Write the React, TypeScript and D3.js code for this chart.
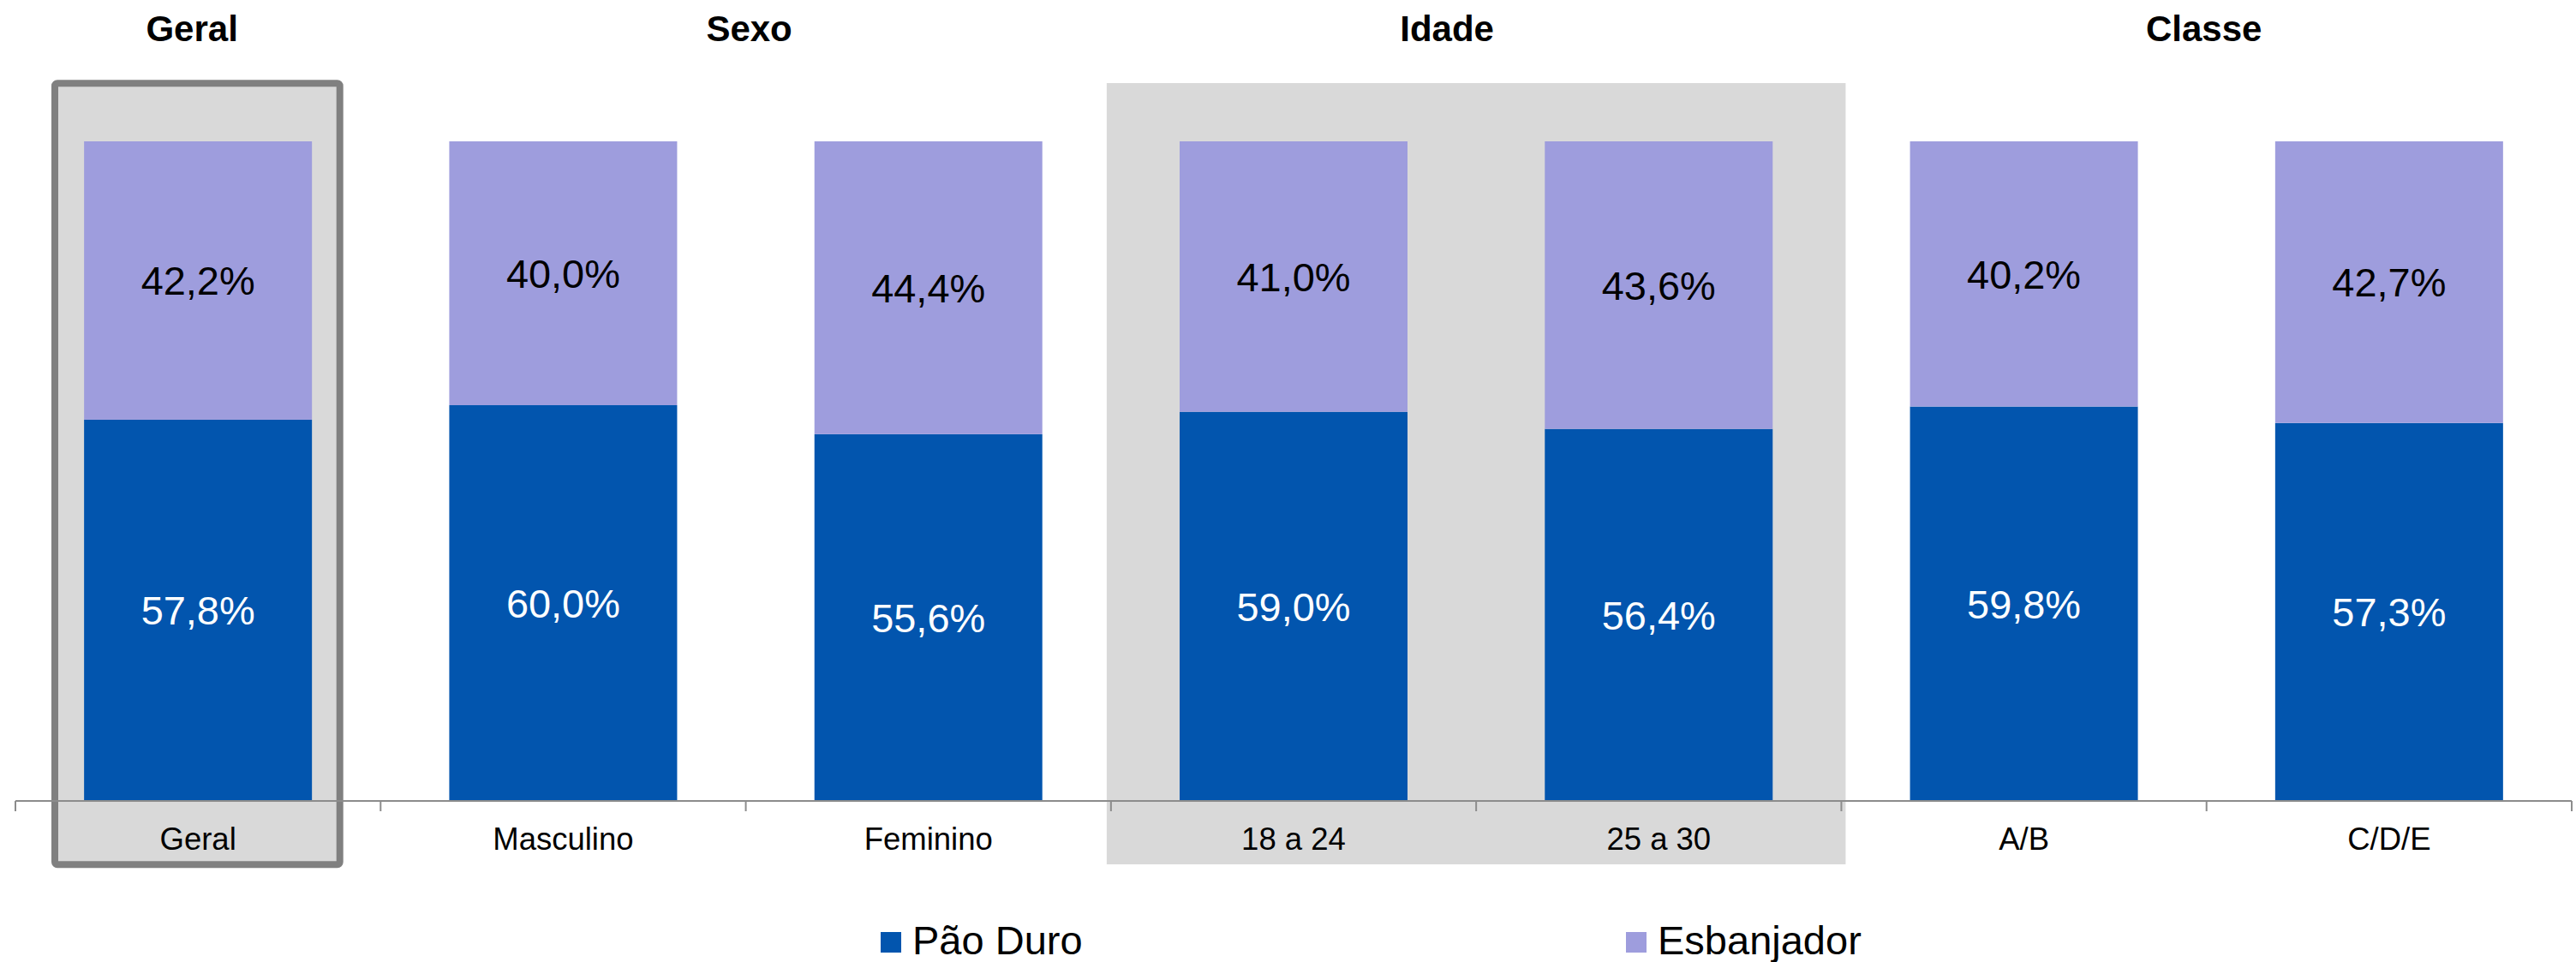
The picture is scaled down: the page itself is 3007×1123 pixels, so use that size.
import React from "react";
import * as d3 from "d3";

const categories = ["Geral", "Masculino", "Feminino", "18 a 24", "25 a 30", "A/B", "C/D/E"];
const paoDuro = [57.8, 60.0, 55.6, 59.0, 56.4, 59.8, 57.3];
const esbanjador = [42.2, 40.0, 44.4, 41.0, 43.6, 40.2, 42.7];
const seriesNames = ["Pão Duro", "Esbanjador"];
const groupNames = ["Geral", "Sexo", "Idade", "Classe"];
const groupMembers = [["Geral"], ["Masculino", "Feminino"], ["18 a 24", "25 a 30"], ["A/B", "C/D/E"]];

const W = 3007;
const H = 1123;
const COLORS = ["#0255AE", "#9E9DDD"];
const FONT = "'Liberation Sans', Arial, Helvetica, sans-serif";
const titleNudge = [-7, 4, -34, -3];

export default function App() {
  const x = d3.scaleBand<string>().domain(categories).range([18, 3002]).padding(0);
  const y = d3.scaleLinear().domain([0, 100]).range([935, 165]);
  const barW = x.bandwidth() * 0.624;
  const fmt = (v: number) => d3.format(".1f")(v).replace(".", ",") + "%";

  const stackData = categories.map((c, i) => ({ cat: c, p: paoDuro[i], e: esbanjador[i] }));
  const stack = d3.stack<any>().keys(["p", "e"])(stackData);

  const groupCenter = (members: string[]) => {
    const xs = members.map((m) => (x(m) as number) + x.bandwidth() / 2);
    return d3.mean(xs) as number;
  };

  const geralX = x("Geral") as number;
  const idadeX0 = x("18 a 24") as number;
  const idadeX1 = (x("25 a 30") as number) + x.bandwidth();

  const ticks = [...categories.map((c) => x(c) as number), x.range()[1]];

  const legendX = [1028, 1898];

  return (
    <svg width={W} height={H} style={{ position: "absolute", left: 0, top: 0, background: "#fff" }} fontFamily={FONT}>
      {/* Idade shaded background */}
      <rect x={idadeX0 - 5} y={97} width={idadeX1 - idadeX0 + 10} height={912} fill="#D9D9D9" />
      {/* Geral highlighted box */}
      <rect x={geralX + 46} y={97.3} width={332.7} height={912} fill="#D9D9D9" stroke="#808080" strokeWidth={8} rx={3} />

      {/* bars */}
      {stack.map((layer, li) =>
        layer.map((d, i) => (
          <rect
            key={`${li}-${i}`}
            x={(x(categories[i]) as number) + (x.bandwidth() - barW) / 2}
            y={y(d[1])}
            width={barW}
            height={y(d[0]) - y(d[1])}
            fill={COLORS[li]}
          />
        ))
      )}

      {/* value labels */}
      {stack.map((layer, li) =>
        layer.map((d, i) => (
          <text
            key={`l-${li}-${i}`}
            x={(x(categories[i]) as number) + x.bandwidth() / 2}
            y={(y(d[0]) + y(d[1])) / 2 + 17}
            textAnchor="middle"
            fontSize={47}
            textLength={133}
            lengthAdjust="spacingAndGlyphs"
            fill={li === 0 ? "#FFFFFF" : "#000000"}
          >
            {fmt(d[1] - d[0])}
          </text>
        ))
      )}

      {/* axis */}
      <line x1={x.range()[0]} x2={x.range()[1]} y1={935} y2={935} stroke="#8C8C8C" strokeWidth={2} />
      {ticks.map((t, i) => (
        <line key={`t-${i}`} x1={t} x2={t} y1={935} y2={947} stroke="#8C8C8C" strokeWidth={2} />
      ))}
      {categories.map((c) => (
        <text key={`c-${c}`} x={(x(c) as number) + x.bandwidth() / 2} y={991.5} textAnchor="middle" fontSize={36.5} fill="#000">
          {c}
        </text>
      ))}

      {/* group titles */}
      {groupNames.map((g, i) => (
        <text key={`g-${g}`} x={groupCenter(groupMembers[i]) + titleNudge[i]} y={47.5} textAnchor="middle" fontSize={42} fontWeight="bold" fill="#000">
          {g}
        </text>
      ))}

      {/* legend */}
      {seriesNames.map((s, i) => (
        <g key={`lg-${s}`}>
          <rect x={legendX[i]} y={1088} width={24} height={24} fill={COLORS[i]} />
          <text x={legendX[i] + 37} y={1114} fontSize={47} fill="#000">
            {s}
          </text>
        </g>
      ))}
    </svg>
  );
}
